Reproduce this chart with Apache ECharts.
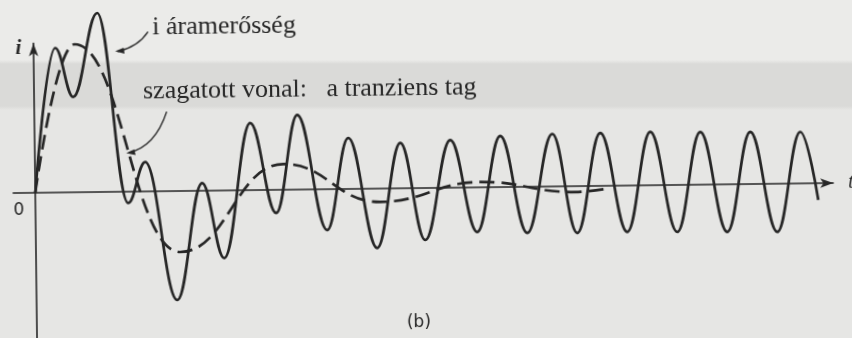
<!DOCTYPE html>
<html>
<head>
<meta charset="utf-8">
<script src="https://cdn.jsdelivr.net/npm/echarts@6/dist/echarts.min.js"></script>
<style>
  html, body { margin: 0; padding: 0; width: 852px; height: 338px; overflow: hidden; background: #e7e7e5; }
  #paper {
    position: absolute; left: 0; top: 0; width: 852px; height: 338px;
    background: linear-gradient(to bottom, #ebebe9 0, #ebebe9 60px, #dadad8 64px, #dadad8 106px, #e6e6e4 110px, #e6e6e4 100%);
  }
  #chart {
    position: absolute; left: 0; top: 0; width: 852px; height: 338px;
    transform: rotate(-0.7deg); transform-origin: 426px 169px;
  }
</style>
</head>
<body>
<div id="paper"></div>
<div id="chart"></div>
<script>
// Total current i(t): turning points (peaks and troughs) of the oscillation
const currentT = [0, 2.17, 3.91, 6.41, 9.28, 11.03, 14.07, 16.7, 18.82, 21.58, 24.07, 26.29, 29.15, 31.36,
  34.13, 36.56, 38.94, 41.56, 44.15, 46.56, 49.15, 51.77, 54.15, 56.57, 59.15, 61.57, 64.15, 66.57,
  69.15, 71.57, 74.15, 76.57, 78.29];
const currentI = [0, 14.45, 9.53, 17.9, -1.14, 2.94, -10.9, 0.77, -6.76, 6.71, -2.32, 7.46, -4.08, 5.1,
  -5.94, 4.53, -5.2, 4.77, -4.46, 5.11, -4.62, 5.25, -4.68, 5.29, -4.64, 5.33, -4.7, 5.27,
  -4.76, 5.21, -4.82, 5.15, -1.67];

// Transient term (dashed): decaying slow oscillation
const transientT = [0, 4.1, 14.42, 24.83, 34.48, 44.5, 54.0, 57.5];
const transientI = [0, 14.8, -6.1, 2.57, -1.34, 0.54, -0.58, -0.22];

const labelCurrent = 'i áramerősség';
const labelTransient = 'szagatott vonal:   a tranziens tag';
const axisNameY = 'i';
const axisNameX = 't';
const originLabel = '0';
const panelLabel = '(b)';

const ink = '#262626';
const zip = (xs, ys) => xs.map((x, k) => [x, ys[k]]);

const chart = echarts.init(document.getElementById('chart'), null, { renderer: 'canvas' });

chart.setOption({
  animation: false,
  backgroundColor: 'transparent',
  grid: { left: 13, right: 19, top: 38.5, bottom: 0 },
  xAxis: {
    type: 'value', min: -2.2, max: 79.8,
    axisLine: { show: true, onZero: true, symbol: ['none', 'arrow'], symbolSize: [7, 13],
      lineStyle: { color: ink, width: 1.6 } },
    axisTick: { show: false }, axisLabel: { show: false }, splitLine: { show: false }
  },
  yAxis: {
    type: 'value', min: -15, max: 14.95,
    axisLine: { show: true, onZero: true, symbol: ['none', 'arrow'], symbolSize: [7, 13],
      lineStyle: { color: ink, width: 1.6 } },
    axisTick: { show: false }, axisLabel: { show: false }, splitLine: { show: false }
  },
  series: [
    {
      type: 'line', name: labelTransient, data: zip(transientT, transientI),
      showSymbol: false, smooth: 0.45, smoothMonotone: 'x', clip: false, z: 2,
      lineStyle: { color: ink, width: 2.7, type: [15, 7], cap: 'butt' }
    },
    {
      type: 'line', name: labelCurrent, data: zip(currentT, currentI),
      showSymbol: false, smooth: 0.4, smoothMonotone: 'x', clip: false, z: 3,
      lineStyle: { color: ink, width: 2.7 }
    }
  ],
  graphic: [
    { type: 'text', left: 17, top: 33, style: { text: axisNameY, fill: ink,
      font: 'italic bold 21px "Liberation Serif", serif' } },
    { type: 'text', left: 13, top: 197, style: { text: originLabel, fill: ink,
      font: '17px "DejaVu Sans", sans-serif' } },
    { type: 'text', left: 848, top: 178, style: { text: axisNameX, fill: ink,
      font: 'italic 20px "Liberation Serif", serif' } },
    { type: 'text', x: 154, y: 24.5, style: { text: labelCurrent, fill: ink,
      font: '26px "Liberation Serif", serif', verticalAlign: 'middle' } },
    { type: 'text', x: 144, y: 88.5, style: { text: labelTransient, fill: ink,
      font: '26px "Liberation Serif", serif', verticalAlign: 'middle' } },
    { type: 'text', x: 417, y: 323, style: { text: panelLabel, fill: ink,
      font: '17px "DejaVu Sans", sans-serif', align: 'center', verticalAlign: 'middle' } },
    // pointer to the solid curve
    { type: 'bezierCurve', shape: { x1: 149.7, y1: 28.4, cpx1: 139.6, cpy1: 43.4, x2: 119, y2: 47.8 },
      style: { stroke: ink, lineWidth: 1.3, fill: null } },
    { type: 'polygon', shape: { points: [[116.6, 47.4], [126, 49.9], [125.2, 43.9]] },
      style: { fill: ink } },
    // pointer to the dashed curve
    { type: 'bezierCurve', shape: { x1: 167.4, y1: 108.5, cpx1: 155.4, cpy1: 143.5, x2: 129, y2: 149 },
      style: { stroke: ink, lineWidth: 1.3, fill: null } },
    { type: 'polygon', shape: { points: [[126.4, 149.5], [135.8, 151.6], [134.6, 145.8]] },
      style: { fill: ink } }
  ]
});
</script>
</body>
</html>
